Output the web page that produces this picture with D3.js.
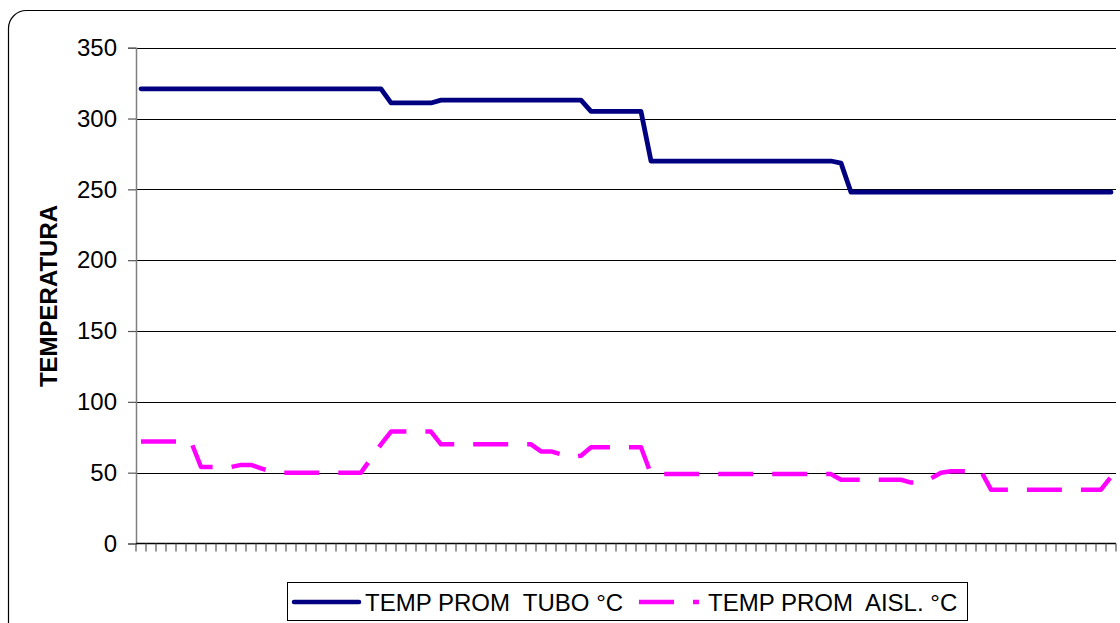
<!DOCTYPE html>
<html>
<head>
<meta charset="utf-8">
<script src="https://cdn.jsdelivr.net/npm/d3@7"></script>
<style>
  html, body { margin: 0; padding: 0; background: #fff; }
  svg { display: block; font-family: Arial, "Liberation Sans", sans-serif; }
  .legend-label { white-space: pre; }
</style>
</head>
<body>
<svg id="chart" width="1120" height="623"></svg>
<script>
// values, one per category
const tubo = [
  321, 321, 321, 321, 321, 321, 321, 321, 321, 321,
  321, 321, 321, 321, 321, 321, 321, 321, 321, 321,
  321, 321, 321, 321, 321, 311, 311, 311, 311, 311,
  313, 313, 313, 313, 313, 313, 313, 313, 313, 313,
  313, 313, 313, 313, 313, 305, 305, 305, 305, 305,
  305, 270, 270, 270, 270, 270, 270, 270, 270, 270,
  270, 270, 270, 270, 270, 270, 270, 270, 270, 270,
  268.5, 248, 248, 248, 248, 248, 248, 248, 248, 248,
  248, 248, 248, 248, 248, 248, 248, 248, 248, 248,
  248, 248, 248, 248, 248, 248, 248, 248
];
const aisl = [
  72, 72, 72, 72, 72, 72, 54, 54, 54, 54,
  55.5, 55.5, 53, 51, 50, 50, 50, 50, 50, 50,
  50, 50, 50, 60, 70, 79, 79, 79, 79, 79,
  70, 70, 70, 70, 70, 70, 70, 70, 70, 70,
  65, 65, 63, 61, 62, 68, 68, 68, 68, 68,
  68, 49, 49, 49, 49, 49, 49, 49, 49, 49,
  49, 49, 49, 49, 49, 49, 49, 49, 49, 49,
  45, 45, 45, 45, 45, 45, 45, 43, 43, 46,
  50, 51, 51, 51, 51, 38, 38, 38, 38, 38,
  38, 38, 38, 38, 38, 38, 38, 47
];
const categories = tubo.map((d, i) => i + 1);
const yTicks = [0, 50, 100, 150, 200, 250, 300, 350];
const seriesNames = ['TEMP PROM  TUBO \u00B0C', 'TEMP PROM  AISL. \u00B0C'];
const yTitle = 'TEMPERATURA';

const svg = d3.select('#chart');
const plot = { left: 136, right: 1116, top: 47.7, bottom: 543.5 };

// outer rounded frame (runs off the right and bottom edge)
svg.append('rect')
  .attr('x', 8.5).attr('y', 10.5)
  .attr('width', 1200).attr('height', 700)
  .attr('rx', 18).attr('ry', 18)
  .attr('fill', '#fff')
  .attr('stroke', '#000')
  .attr('stroke-width', 1.2);

const x = d3.scaleBand()
  .domain(categories)
  .range([plot.left, plot.right]);

const y = d3.scaleLinear()
  .domain([0, 350])
  .range([plot.bottom, plot.top]);

// gridlines
svg.append('g')
  .selectAll('line')
  .data(yTicks.filter(d => d > 0))
  .enter()
  .append('line')
  .attr('x1', plot.left).attr('x2', plot.right)
  .attr('y1', d => Math.round(y(d)) + 0.5).attr('y2', d => Math.round(y(d)) + 0.5)
  .attr('stroke', '#000')
  .attr('stroke-width', 1);

// y axis
const yAxis = svg.append('g')
  .attr('transform', `translate(${plot.left},0)`)
  .call(d3.axisLeft(y).tickValues(yTicks).tickSize(8).tickPadding(11));
yAxis.select('.domain').attr('stroke', '#808080').attr('stroke-width', 1.5);
yAxis.selectAll('.tick line').attr('stroke', '#555').attr('stroke-width', 1.2);
yAxis.selectAll('.tick text')
  .attr('font-size', 24)
  .attr('font-family', 'Arial, "Liberation Sans", sans-serif')
  .attr('fill', '#000');

// x axis: baseline plus a tick between every category
const xAxis = svg.append('g');
xAxis.append('line')
  .attr('x1', plot.left).attr('x2', plot.right)
  .attr('y1', plot.bottom).attr('y2', plot.bottom)
  .attr('stroke', '#000')
  .attr('stroke-width', 1.4);
xAxis.selectAll('.xtick')
  .data(categories.concat([null]))
  .enter()
  .append('line')
  .attr('class', 'xtick')
  .attr('x1', (d, i) => plot.left + i * x.step())
  .attr('x2', (d, i) => plot.left + i * x.step())
  .attr('y1', plot.bottom)
  .attr('y2', plot.bottom + 8)
  .attr('stroke', '#555')
  .attr('stroke-width', 1.2);

// axis title
svg.append('text')
  .attr('transform', `translate(57,296) rotate(-90)`)
  .attr('text-anchor', 'middle')
  .attr('font-size', 24)
  .attr('font-weight', 'bold')
  .text(yTitle);

const line = d3.line()
  .x((d, i) => x(categories[i]) + x.bandwidth() / 2)
  .y(d => y(d));

svg.append('path')
  .datum(aisl)
  .attr('d', line)
  .attr('fill', 'none')
  .attr('stroke', '#ff00ff')
  .attr('stroke-width', 4.5)
  .attr('stroke-dasharray', '35,19')
  .attr('stroke-linejoin', 'round');

svg.append('path')
  .datum(tubo)
  .attr('d', line)
  .attr('fill', 'none')
  .attr('stroke', '#000080')
  .attr('stroke-width', 4.8)
  .attr('stroke-linejoin', 'round')
  .attr('stroke-linecap', 'round');

// legend
const legend = svg.append('g');
legend.append('rect')
  .attr('x', 287.5).attr('y', 582.5)
  .attr('width', 680).attr('height', 38)
  .attr('fill', '#fff')
  .attr('stroke', '#000')
  .attr('stroke-width', 1);

legend.append('line')
  .attr('x1', 294).attr('x2', 359)
  .attr('y1', 602).attr('y2', 602)
  .attr('stroke', '#000080')
  .attr('stroke-width', 4.5)
  .attr('stroke-linecap', 'round');
legend.append('text')
  .attr('class', 'legend-label')
  .attr('x', 365).attr('y', 611)
  .attr('font-size', 24)
  .text(seriesNames[0]);

legend.append('line')
  .attr('x1', 639).attr('x2', 699)
  .attr('y1', 602).attr('y2', 602)
  .attr('stroke', '#ff00ff')
  .attr('stroke-width', 4.5)
  .attr('stroke-dasharray', '35,19');
legend.append('text')
  .attr('class', 'legend-label')
  .attr('x', 708).attr('y', 611)
  .attr('font-size', 24)
  .text(seriesNames[1]);
</script>
</body>
</html>
